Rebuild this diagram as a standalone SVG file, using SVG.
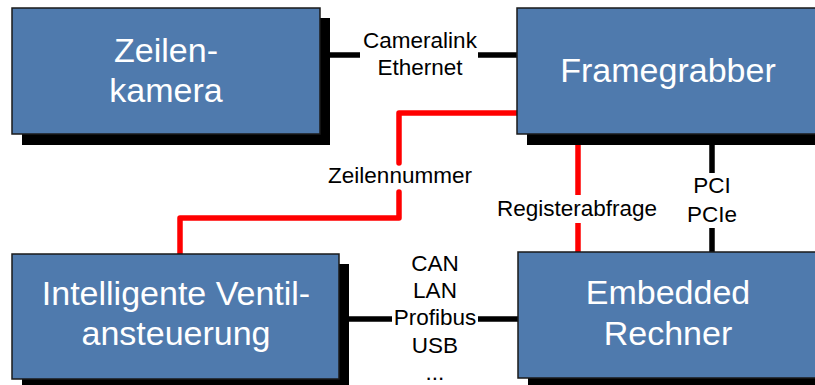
<svg xmlns="http://www.w3.org/2000/svg" width="815" height="385" viewBox="0 0 815 385">
<style>
.box{fill:#4f7aad;stroke:#1a1a1a;stroke-width:1.5}
.shadow{fill:#000}
.bt{font-family:"Liberation Sans",Arial,sans-serif;font-size:34px;fill:#fff;text-anchor:middle}
.lt{font-family:"Liberation Sans",Arial,sans-serif;font-size:22.5px;fill:#000;text-anchor:middle}
.blk{stroke:#000;stroke-width:5.5;fill:none}
.red{stroke:#ff0000;stroke-width:5.5;fill:none;stroke-linejoin:round;stroke-linecap:round}
</style>
<rect width="815" height="385" fill="#fff"/>
<g id="connectors">
  <path class="blk" d="M320 55H360M478 55H517"/>
  <path class="red" d="M517 113H399V163M399 192V218H180V254"/>
  <path class="red" d="M578 140V195M578 223V252" style="stroke-linecap:butt"/>
  <path class="blk" d="M712 140V173M712 228V252"/>
  <path class="blk" d="M340 319H392M478 319H518"/>
  <text class="lt" x="420" y="48">Cameralink</text>
  <text class="lt" x="420" y="75">Ethernet</text>
  <text class="lt" x="400" y="183">Zeilennummer</text>
  <text class="lt" x="577" y="216">Registerabfrage</text>
  <text class="lt" x="712" y="193">PCI</text>
  <text class="lt" x="712" y="222">PCIe</text>
  <text class="lt" x="435" y="271">CAN</text>
  <text class="lt" x="435" y="298">LAN</text>
  <text class="lt" x="435" y="325">Profibus</text>
  <text class="lt" x="435" y="353">USB</text>
  <text class="lt" x="435" y="380">...</text>
</g>
<g id="zeilenkamera">
  <rect class="shadow" x="22" y="18" width="308" height="127"/>
  <rect class="box" x="12" y="8" width="308" height="126"/>
  <text class="bt" x="166" y="62">Zeilen-</text>
  <text class="bt" x="166" y="102">kamera</text>
</g>
<g id="framegrabber">
  <rect class="shadow" x="527" y="18" width="300" height="127"/>
  <rect class="box" x="517" y="8" width="305" height="126"/>
  <text class="bt" x="668" y="82">Framegrabber</text>
</g>
<g id="ventilansteuerung">
  <rect class="shadow" x="22" y="264" width="327" height="126"/>
  <rect class="box" x="12" y="254" width="327" height="125"/>
  <text class="bt" x="176" y="305">Intelligente Ventil-</text>
  <text class="bt" x="176" y="345">ansteuerung</text>
</g>
<g id="embedded">
  <rect class="shadow" x="528" y="262" width="300" height="126"/>
  <rect class="box" x="518" y="252" width="305" height="126"/>
  <text class="bt" x="668" y="304">Embedded</text>
  <text class="bt" x="668" y="345">Rechner</text>
</g>
</svg>
